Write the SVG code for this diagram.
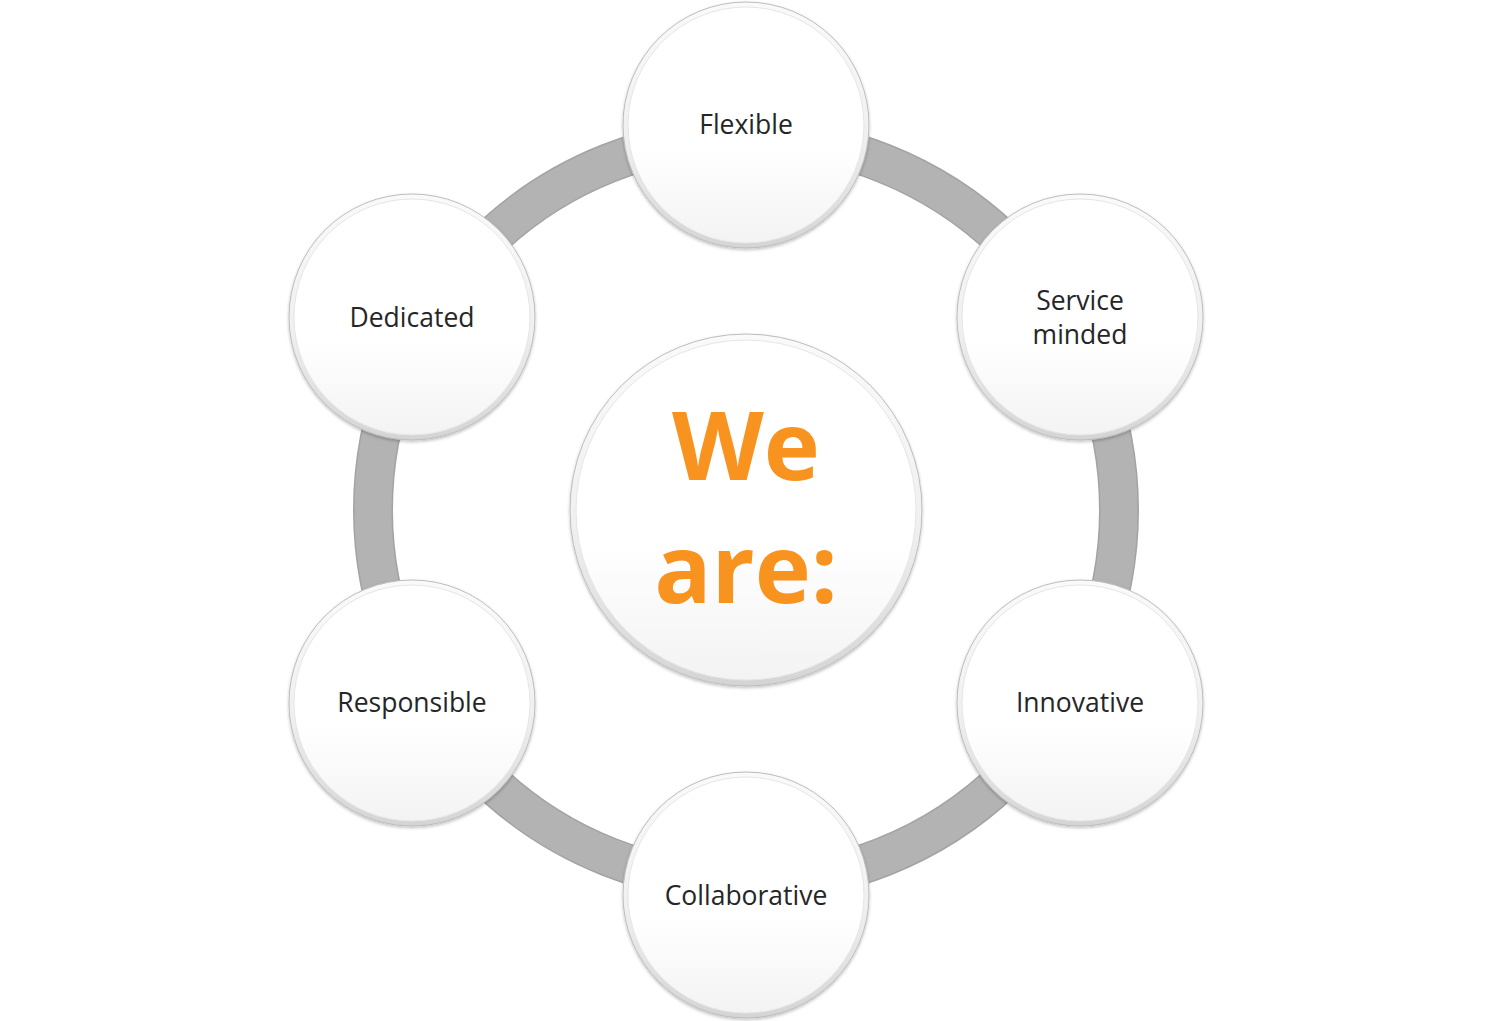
<svg xmlns="http://www.w3.org/2000/svg" width="1493" height="1021" viewBox="0 0 1493 1021">
  <defs>
    <linearGradient id="rim" x1="0" y1="0" x2="0" y2="1">
      <stop offset="0" stop-color="#fafafa"/>
      <stop offset="0.55" stop-color="#f0f0f0"/>
      <stop offset="1" stop-color="#d4d4d4"/>
    </linearGradient>
    <linearGradient id="face" x1="0" y1="0" x2="0" y2="1">
      <stop offset="0" stop-color="#ffffff"/>
      <stop offset="0.6" stop-color="#ffffff"/>
      <stop offset="1" stop-color="#f3f3f3"/>
    </linearGradient>
    <filter id="shadow" x="-20%" y="-20%" width="140%" height="140%">
      <feDropShadow dx="0" dy="1.5" stdDeviation="1.5" flood-color="#000" flood-opacity="0.25"/>
    </filter>
    <g id="node">
      <circle r="123" fill="url(#rim)" stroke="#bdbdbd" stroke-width="1" filter="url(#shadow)"/>
      <circle r="118" fill="url(#face)"/>
      <circle r="118" fill="none" stroke="#e6e6e6" stroke-width="1"/>
    </g>
    <g id="hub">
      <circle r="176" fill="url(#rim)" stroke="#bdbdbd" stroke-width="1" filter="url(#shadow)"/>
      <circle r="170" fill="url(#face)"/>
      <circle r="170" fill="none" stroke="#e6e6e6" stroke-width="1"/>
    </g>
  </defs>
  <style>
    .lbl { font-family: "Open Sans", "Liberation Sans", sans-serif; font-size: 26.5px; fill: #262626; text-anchor: middle; }
    .big { font-family: "Open Sans", "Liberation Sans", sans-serif; font-weight: bold; font-size: 95px; fill: #f7931e; text-anchor: middle; }
  </style>
  <rect width="1493" height="1021" fill="#ffffff"/>
  <g id="connectors">
    <circle cx="746" cy="510" r="373" fill="none" stroke="#a3a3a3" stroke-width="40"/>
    <circle cx="746" cy="510" r="373" fill="none" stroke="#b3b3b3" stroke-width="37"/>
  </g>
  <g id="center">
    <use href="#hub" x="746" y="510"/>
    <text class="big" x="746" y="480">We</text>
    <text class="big" x="746" y="603">are:</text>
  </g>
  <g id="flexible">
    <use href="#node" x="746" y="125"/>
    <text class="lbl" x="746" y="134">Flexible</text>
  </g>
  <g id="service-minded">
    <use href="#node" x="1080" y="317"/>
    <text class="lbl" x="1080" y="310">Service</text>
    <text class="lbl" x="1080" y="344">minded</text>
  </g>
  <g id="innovative">
    <use href="#node" x="1080" y="703"/>
    <text class="lbl" x="1080" y="712">Innovative</text>
  </g>
  <g id="collaborative">
    <use href="#node" x="746" y="895"/>
    <text class="lbl" x="746" y="905">Collaborative</text>
  </g>
  <g id="responsible">
    <use href="#node" x="412" y="703"/>
    <text class="lbl" x="412" y="712">Responsible</text>
  </g>
  <g id="dedicated">
    <use href="#node" x="412" y="317"/>
    <text class="lbl" x="412" y="327">Dedicated</text>
  </g>
</svg>
